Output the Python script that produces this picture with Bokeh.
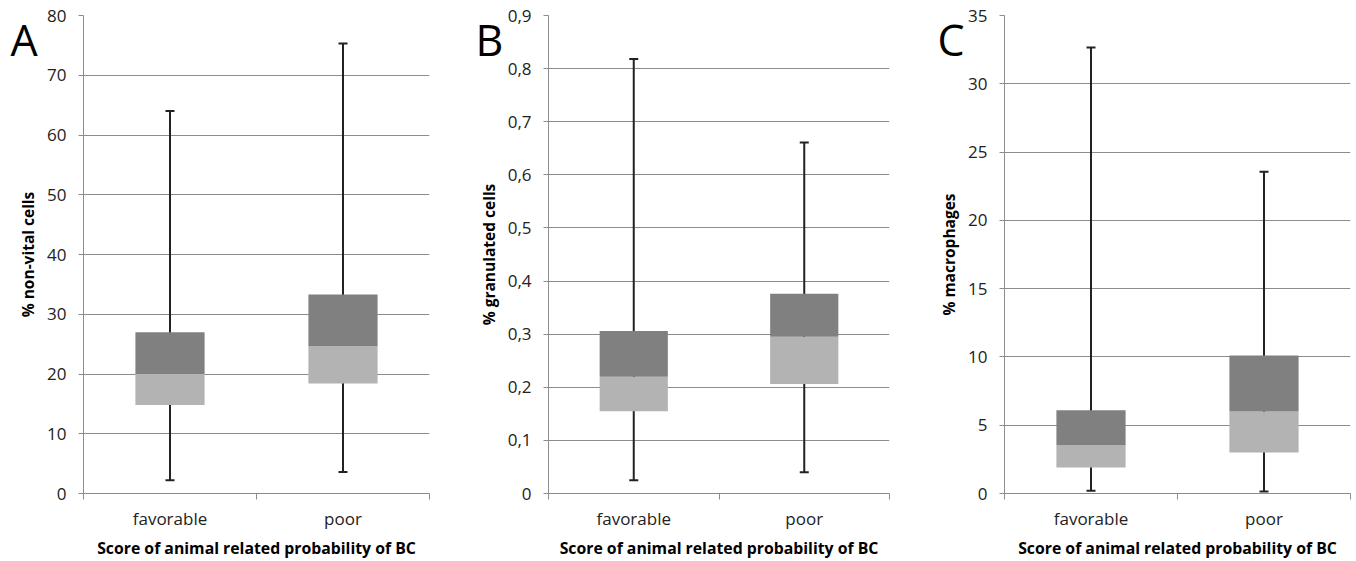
from bokeh.plotting import figure
from bokeh.layouts import row
from bokeh.models import Range1d, FixedTicker, Label
from bokeh.embed import file_html
from bokeh.resources import INLINE

categories = ["favorable", "poor"]
x_title = "Score of animal related probability of BC"

# Panel A: % non-vital cells
a_min = [2.2, 3.6]
a_q1 = [14.8, 18.4]
a_med = [20.0, 24.7]
a_q3 = [27.0, 33.3]
a_max = [64.0, 75.3]
a_ticks = [0, 10, 20, 30, 40, 50, 60, 70, 80]
a_tick_labels = ["0", "10", "20", "30", "40", "50", "60", "70", "80"]

# Panel B: % granulated cells
b_min = [0.025, 0.040]
b_q1 = [0.155, 0.206]
b_med = [0.220, 0.295]
b_q3 = [0.306, 0.376]
b_max = [0.818, 0.661]
b_ticks = [0, 0.1, 0.2, 0.3, 0.4, 0.5, 0.6, 0.7, 0.8, 0.9]
b_tick_labels = ["0", "0,1", "0,2", "0,3", "0,4", "0,5", "0,6", "0,7", "0,8", "0,9"]

# Panel C: % macrophages
c_min = [0.2, 0.15]
c_q1 = [1.9, 3.0]
c_med = [3.55, 6.0]
c_q3 = [6.1, 10.1]
c_max = [32.65, 23.55]
c_ticks = [0, 5, 10, 15, 20, 25, 30, 35]
c_tick_labels = ["0", "5", "10", "15", "20", "25", "30", "35"]

FONT = "Open Sans"
GRID = "#8c8c8c"
DARK = "#808080"
LIGHT = "#b3b3b3"
WHISK = "#222222"
TXT = "#222222"
FIG_H = 561
TOP, BOTTOM = 15, 66
LEFT = 110  # uniform left border; figures are shifted with negative margins


def make_panel(letter, ylabel, ticks, tick_labels, mins, q1, med, q3, maxs,
               frame_left, frame_right, fig_right, prev_end, letter_x):
    n = len(categories)
    xs = [i + 0.5 for i in range(n)]
    start = frame_left - LEFT
    width = fig_right - start
    p = figure(width=width, height=FIG_H, output_backend="svg", toolbar_location=None,
               x_range=Range1d(0, n), y_range=Range1d(ticks[0], ticks[-1]),
               min_border_left=LEFT, min_border_right=fig_right - frame_right,
               min_border_top=TOP, min_border_bottom=BOTTOM,
               background_fill_color="white", border_fill_color=None,
               styles={"margin-left": f"{start - prev_end}px"})
    p.outline_line_color = None

    p.segment(x0=xs, y0=mins, x1=xs, y1=maxs, line_color=WHISK, line_width=2)
    p.scatter(x=xs + xs, y=mins + maxs, marker="dash", size=9,
              line_color=WHISK, line_width=2)
    p.vbar(x=xs, width=0.4, bottom=q1, top=med, fill_color=LIGHT, line_color=None)
    p.vbar(x=xs, width=0.4, bottom=med, top=q3, fill_color=DARK, line_color=None)

    # y axis
    p.yaxis.ticker = FixedTicker(ticks=ticks, minor_ticks=[])
    p.yaxis.major_label_overrides = {t: l for t, l in zip(ticks, tick_labels)}
    p.yaxis.axis_label = ylabel
    p.yaxis.axis_label_text_font = FONT
    p.yaxis.axis_label_text_font_style = "bold"
    p.yaxis.axis_label_text_font_size = "15.5px"
    p.yaxis.axis_label_text_color = "black"
    p.yaxis.axis_label_standoff = 5
    p.yaxis.major_label_text_font = FONT
    p.yaxis.major_label_text_font_size = "17px"
    p.yaxis.major_label_text_color = TXT
    p.yaxis.major_label_standoff = 12
    p.yaxis.major_tick_out = 5
    p.yaxis.major_tick_in = 0
    p.yaxis.major_tick_line_color = GRID
    p.yaxis.axis_line_color = GRID
    p.yaxis.minor_tick_line_color = None

    # x axis
    p.xaxis.ticker = FixedTicker(ticks=xs, minor_ticks=list(range(n + 1)))
    p.xaxis.major_label_overrides = {x: c for x, c in zip(xs, categories)}
    p.xaxis.axis_label = x_title
    p.xaxis.axis_label_text_font = FONT
    p.xaxis.axis_label_text_font_style = "bold"
    p.xaxis.axis_label_text_font_size = "15.8px"
    p.xaxis.axis_label_text_color = "black"
    p.xaxis.axis_label_standoff = 4
    p.xaxis.major_label_text_font = FONT
    p.xaxis.major_label_text_font_size = "17px"
    p.xaxis.major_label_text_color = TXT
    p.xaxis.major_label_standoff = 7
    p.xaxis.major_tick_out = 0
    p.xaxis.major_tick_in = 0
    p.xaxis.minor_tick_out = 6
    p.xaxis.minor_tick_in = 0
    p.xaxis.minor_tick_line_color = GRID
    p.xaxis.axis_line_color = GRID

    p.xgrid.visible = False
    p.ygrid.grid_line_color = GRID
    p.ygrid.grid_line_width = 1

    # panel letter, in canvas units, placed via a side panel so it is not clipped
    p.add_layout(Label(x=letter_x - start, y=39, x_units="canvas", y_units="canvas",
                       text=letter, text_font=FONT, text_font_size="43px",
                       text_color="black", text_baseline="alphabetic"), "left")
    return p


pa = make_panel("A", "% non-vital cells", a_ticks, a_tick_labels,
                a_min, a_q1, a_med, a_q3, a_max, 83, 429, 452, 0, 10)
pb = make_panel("B", "% granulated cells", b_ticks, b_tick_labels,
                b_min, b_q1, b_med, b_q3, b_max, 548, 889, 904, 452, 475)
pc = make_panel("C", "% macrophages", c_ticks, c_tick_labels,
                c_min, c_q1, c_med, c_q3, c_max, 1004, 1350, 1356, 904, 937)

layout = row(pa, pb, pc, spacing=0)
open("out.html", "w").write(file_html(layout, INLINE))
